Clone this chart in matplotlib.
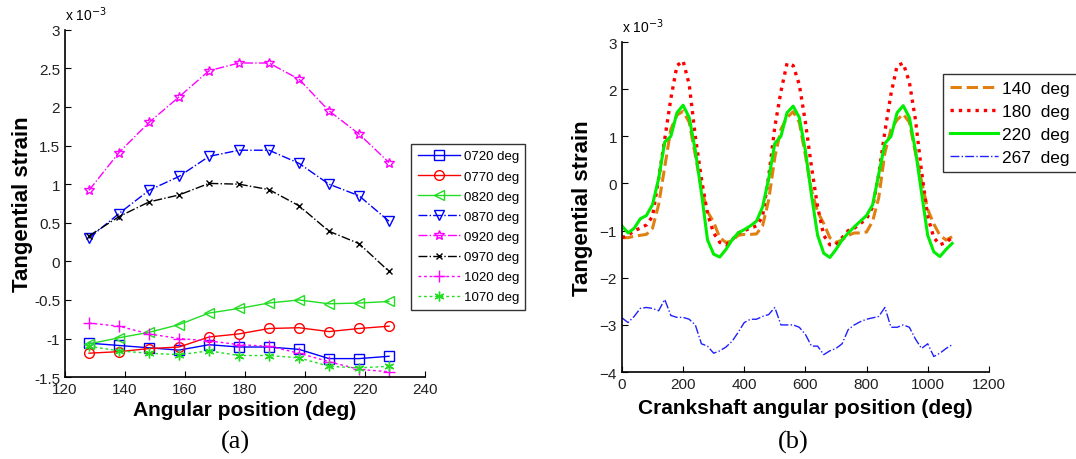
import numpy as np
import matplotlib.pyplot as plt

plt.rcParams['font.family'] = ['Liberation Sans', 'DejaVu Sans']

# ---- panel (a): strain vs angular position (values in 1e-3) ----
ang_pos = [128, 138, 148, 158, 168, 178, 188, 198, 208, 218, 228]

s0720 = [-1.06, -1.09, -1.12, -1.15, -1.08, -1.11, -1.11, -1.14, -1.26, -1.26, -1.23]
s0770 = [-1.19, -1.17, -1.13, -1.11, -0.98, -0.94, -0.87, -0.86, -0.91, -0.87, -0.84]
s0820 = [-1.07, -0.99, -0.92, -0.82, -0.67, -0.61, -0.54, -0.50, -0.55, -0.54, -0.52]
s0870 = [0.30, 0.62, 0.92, 1.10, 1.36, 1.44, 1.44, 1.27, 1.00, 0.85, 0.52]
s0920 = [0.92, 1.41, 1.80, 2.13, 2.47, 2.57, 2.57, 2.36, 1.95, 1.65, 1.28]
s0970 = [0.33, 0.58, 0.77, 0.86, 1.01, 1.00, 0.93, 0.72, 0.39, 0.23, -0.13]
s1020 = [-0.80, -0.84, -0.94, -1.00, -1.03, -1.08, -1.10, -1.19, -1.30, -1.40, -1.43]
s1070 = [-1.10, -1.16, -1.19, -1.21, -1.16, -1.22, -1.22, -1.25, -1.36, -1.38, -1.36]

labels_a = ['0720 deg', '0770 deg', '0820 deg', '0870 deg',
            '0920 deg', '0970 deg', '1020 deg', '1070 deg']

# ---- panel (b): strain vs crankshaft angle (values in 1e-3) ----
crank = np.arange(0, 1081, 20)

s140 = [-1.15, -1.15, -1.12, -1.10, -1.08, -0.95, -0.45, 0.35, 1.15, 1.45, 1.53, 1.30, 0.60, -0.10,
        -0.60, -0.82, -1.15, -1.25, -1.22, -1.10, -1.08, -1.08, -1.07, -0.90, -0.35, 0.55, 1.15, 1.40,
        1.52, 1.30, 0.60, -0.15, -0.60, -0.85, -1.15, -1.25, -1.20, -1.10, -1.05, -1.05, -1.03, -0.80,
        -0.30, 0.65, 1.15, 1.35, 1.47, 1.30, 0.65, 0.05, -0.55, -0.86, -1.10, -1.20, -1.13]
s180 = [-1.15, -1.10, -1.00, -0.95, -0.88, -0.70, 0.10, 0.94, 1.80, 2.50, 2.60, 2.10, 1.00, 0.10,
        -0.65, -1.05, -1.25, -1.30, -1.20, -1.05, -1.00, -0.95, -0.90, -0.70, 0.15, 1.20, 1.95, 2.55,
        2.50, 2.10, 1.30, 0.35, -0.50, -1.10, -1.30, -1.30, -1.15, -1.00, -0.95, -0.85, -0.75, -0.50,
        0.20, 1.10, 1.90, 2.50, 2.55, 2.15, 1.35, 0.25, -0.70, -1.15, -1.30, -1.25, -1.15]
s220 = [-0.90, -1.05, -0.95, -0.75, -0.68, -0.45, 0.10, 0.88, 1.00, 1.50, 1.66, 1.40, 0.70, -0.20,
        -1.20, -1.50, -1.56, -1.40, -1.20, -1.05, -0.98, -0.90, -0.80, -0.50, 0.10, 0.85, 1.00, 1.50,
        1.64, 1.40, 0.70, -0.25, -1.10, -1.48, -1.57, -1.40, -1.20, -1.05, -0.92, -0.80, -0.68, -0.45,
        0.20, 0.85, 1.00, 1.50, 1.65, 1.40, 0.70, -0.20, -1.10, -1.45, -1.55, -1.40, -1.27]
s267 = [-2.85, -2.95, -2.82, -2.65, -2.63, -2.65, -2.70, -2.46, -2.80, -2.84, -2.84, -2.88, -3.00, -3.40,
        -3.45, -3.60, -3.55, -3.47, -3.35, -3.16, -2.95, -2.88, -2.88, -2.82, -2.78, -2.63, -3.00, -3.00,
        -3.00, -3.05, -3.20, -3.45, -3.45, -3.63, -3.55, -3.50, -3.40, -3.10, -3.00, -2.93, -2.88, -2.85,
        -2.82, -2.63, -3.05, -3.05, -3.00, -3.05, -3.30, -3.50, -3.40, -3.67, -3.60, -3.50, -3.42]

labels_b = ['140  deg', '180  deg', '220  deg', '267  deg']

fig = plt.figure(figsize=(10.76, 4.6), dpi=100)

# panel (a)
ax1 = fig.add_axes([0.0604, 0.178, 0.3346, 0.755])
green = '#22dd22'
asterisk = (6, 2, 0)
series_a = [
    (s0720, 'blue', 's', '-', 7),
    (s0770, 'red', 'o', '-', 7),
    (s0820, green, '<', '-', 7),
    (s0870, 'blue', 'v', '-.', 7),
    (s0920, 'magenta', '*', '-.', 7),
    (s0970, 'black', 'x', '-.', 5),
    (s1020, 'magenta', '+', (0, (2, 2)), 9),
    (s1070, green, asterisk, (0, (2, 2)), 7),
]
for (vals, col, mk, ls, ms), lab in zip(series_a, labels_a):
    ax1.plot(ang_pos, vals, color=col, marker=mk, linestyle=ls, linewidth=1,
             markersize=ms, markerfacecolor='none', markeredgewidth=1, label=lab)

ax1.set_xlim(120, 240)
ax1.set_ylim(-1.5, 3)
ax1.set_xticks(range(120, 241, 20))
ax1.set_yticks(np.arange(-1.5, 3.01, 0.5))
ax1.set_yticklabels(['-1.5', '-1', '-0.5', '0', '0.5', '1', '1.5', '2', '2.5', '3'])
ax1.set_xlabel('Angular position (deg)', fontsize=15, fontweight='bold', labelpad=3)
ax1.set_ylabel('Tangential strain', fontsize=16, fontweight='bold', labelpad=1)
ax1.text(0.0, 1.02, 'x 10$^{-3}$', transform=ax1.transAxes, fontsize=10, va='bottom')
leg1 = ax1.legend(loc='upper left', bbox_to_anchor=(0.376, 0.339, 0.118, 0.361),
                  bbox_transform=fig.transFigure, mode='expand', fontsize=9.5,
                  fancybox=False, edgecolor='black', handlelength=3.2,
                  borderpad=0.5, labelspacing=0.6, handletextpad=0.3)
leg1.get_frame().set_linewidth(1)

# panel (b)
ax2 = fig.add_axes([0.578, 0.189, 0.341, 0.7175])
ax2.plot(crank, s140, color='#e08010', linestyle='--', linewidth=2.2, label=labels_b[0])
ax2.plot(crank, s180, color='red', linestyle=(0, (1, 1.5)), linewidth=2.4, label=labels_b[1])
ax2.plot(crank, s220, color='#00ee00', linestyle='-', linewidth=2.2, label=labels_b[2])
ax2.plot(crank, s267, color='#2020ff', linestyle='-.', linewidth=1, label=labels_b[3])

ax2.set_xlim(0, 1200)
ax2.set_ylim(-4, 3)
ax2.set_xticks(range(0, 1201, 200))
ax2.set_yticks(range(-4, 4))
ax2.set_xlabel('Crankshaft angular position (deg)', fontsize=15, fontweight='bold', labelpad=5)
ax2.set_ylabel('Tangential strain', fontsize=16, fontweight='bold', labelpad=5)
ax2.text(0.0, 1.02, 'x 10$^{-3}$', transform=ax2.transAxes, fontsize=10, va='bottom')
leg2 = ax2.legend(loc='upper left', bbox_to_anchor=(0.876, 0.617, 0.14, 0.22),
                  bbox_transform=fig.transFigure, fontsize=12.5,
                  fancybox=False, edgecolor='black', handlelength=2.8,
                  borderpad=0.4, labelspacing=0.45, handletextpad=0.25,
                  borderaxespad=0)
leg2.get_frame().set_linewidth(1)

for ax in (ax1, ax2):
    for side in ('top', 'right'):
        ax.spines[side].set_visible(False)
    ax.spines['left'].set_linewidth(1.2)
    ax.spines['bottom'].set_linewidth(1.2)
    ax.tick_params(direction='in', length=4, labelsize=11, colors='black')
    for t in ax.get_xticklabels() + ax.get_yticklabels():
        t.set_color('#222222')

fig.text(0.219, 0.025, '(a)', fontsize=19, family='Liberation Serif', ha='center')
fig.text(0.737, 0.025, '(b)', fontsize=19, family='Liberation Serif', ha='center')

fig.savefig('out.png', dpi=100)
